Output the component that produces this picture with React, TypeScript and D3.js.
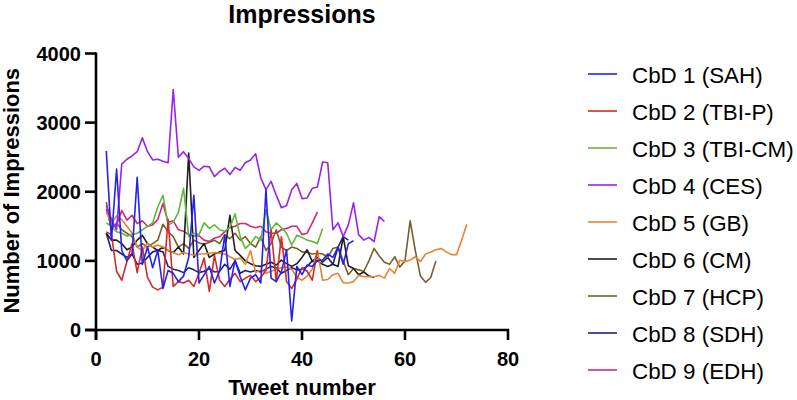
import React from 'react';
import * as d3 from 'd3';

// Tweet-by-tweet impressions, every series starts at tweet 2
const startTweet = 2;

const sah = [2590, 1300, 2330, 1150, 1000, 1100, 2210, 950, 1200, 900, 1150, 600, 860, 820, 700, 780, 1050, 1950, 680, 800, 920, 680, 850, 1370, 630, 1010, 770, 580, 750, 800, 680, 2030, 750, 700, 840, 1160, 130, 920, 800, 940, 920, 1010, 1010, 1100, 1050, 1200, 950, 1250, 1290];
const tbiP = [1420, 1380, 850, 720, 990, 1250, 830, 1200, 760, 620, 580, 620, 1600, 630, 700, 680, 720, 630, 820, 1040, 560, 1080, 720, 630, 730, 820, 700, 750, 790, 700, 760, 860, 1450, 700, 1350, 700, 600, 740, 900, 850, 720, 1150];
const tbiCM = [1550, 1500, 1420, 1400, 1360, 1380, 1400, 1450, 1500, 1550, 1780, 1950, 1520, 1560, 1700, 2050, 1350, 1400, 1380, 1550, 1470, 1520, 1450, 1430, 1480, 1680, 1350, 1180, 1250, 1350, 1300, 1740, 1450, 1550, 1480, 1400, 1230, 1370, 1340, 1300, 1280, 1250, 1470];
const ces = [1800, 1600, 1450, 2400, 2470, 2520, 2580, 2780, 2580, 2460, 2470, 2440, 2420, 3480, 2500, 2580, 2480, 2360, 2310, 2370, 2360, 2220, 2290, 2340, 2250, 2350, 2310, 2420, 2460, 2550, 2200, 2030, 2150, 1950, 1770, 1800, 2030, 2120, 1900, 1910, 2050, 2070, 2430, 2420, 1450, 1550, 1350, 1520, 1840, 1380, 1300, 1340, 1280, 1640, 1570];
const gb = [1700, 1550, 1650, 1600, 1500, 1400, 1200, 1150, 1250, 1200, 1230, 1200, 1150, 1120, 1090, 1120, 1100, 1080, 1100, 1100, 1110, 1120, 1110, 1100, 1060, 1020, 1040, 950, 1150, 830, 870, 820, 850, 880, 900, 910, 880, 760, 720, 780, 880, 1150, 720, 730, 800, 820, 680, 680, 700, 790, 770, 770, 770, 790, 750, 890, 820, 1010, 990, 1010, 1060, 990, 1100, 1130, 1160, 1180, 1130, 1090, 1090, 1300, 1530];
const cm = [1400, 1300, 1300, 1250, 1160, 1200, 1300, 1370, 1250, 1200, 1150, 1200, 1150, 1120, 1200, 1100, 2560, 1050, 1150, 1250, 1050, 1100, 1130, 1150, 1660, 1150, 1080, 1000, 960, 930, 920, 950, 980, 940, 1010, 960, 920, 960, 1050, 1160, 990, 1000, 950, 920, 950, 920, 1350, 930, 890, 800, 840, 780, 760];
const hcp = [1850, 1450, 1550, 1450, 1400, 1350, 1200, 1250, 1200, 1250, 1300, 1530, 1420, 1350, 1200, 1250, 1180, 1300, 1260, 1240, 1270, 1300, 1250, 1380, 1320, 1400, 1300, 1350, 1250, 1200, 1350, 1150, 1250, 1450, 1200, 1150, 1200, 1180, 1130, 1120, 1100, 1110, 1100, 1050, 1180, 1200, 1000, 800, 890, 870, 850, 1000, 1180, 1070, 980, 950, 1060, 910, 1000, 1580, 1150, 780, 690, 760, 1000];
const sdh = [1400, 1150, 1150, 1100, 1050, 1100, 950, 970, 1050, 1130, 1150, 1130, 920, 880, 860, 830, 900, 870, 830, 850, 890, 840, 850, 950, 880, 1000, 820, 860, 840, 860, 840, 880, 920, 900, 820, 860, 900, 870, 880, 920, 1000, 1050, 980, 1050, 950, 1200, 1350, 1300];
const edh = [1750, 1480, 1520, 1730, 1590, 1660, 1540, 1580, 1500, 1520, 1600, 1830, 1560, 1580, 1450, 1430, 1380, 1360, 1360, 1300, 1280, 1330, 1350, 1420, 1480, 1500, 1540, 1540, 1500, 1480, 1500, 1420, 1400, 1400, 1450, 1470, 1500, 1500, 1380, 1400, 1550, 1710];

const seriesNames = ['CbD 1 (SAH)', 'CbD 2 (TBI-P)', 'CbD 3 (TBI-CM)', 'CbD 4 (CES)', 'CbD 5 (GB)', 'CbD 6 (CM)', 'CbD 7 (HCP)', 'CbD 8 (SDH)', 'CbD 9 (EDH)'];
const seriesValues = [sah, tbiP, tbiCM, ces, gb, cm, hcp, sdh, edh];
const seriesColors = ['#2222f5', '#d42a2a', '#5fb83a', '#9b22e8', '#e8832f', '#1e1e1e', '#7d5c2c', '#20207a', '#d8267a'];

const xTicks = [0, 20, 40, 60, 80];
const yTicks = [0, 1000, 2000, 3000, 4000];

const font = 'Arial, "Liberation Sans", sans-serif';

export default function App() {
  const width = 797;
  const height = 400;

  const x = d3.scaleLinear().domain([0, 80]).range([96, 508]);
  const y = d3.scaleLinear().domain([0, 4000]).range([330, 53.5]);

  const line = d3.line<number>()
    .x((_, i) => x(startTweet + i))
    .y(d => y(d));

  // draw order: later series on top, roughly as in the original
  const drawOrder = [8, 7, 6, 5, 4, 3, 2, 1, 0];

  return (
    <svg width={width} height={height} style={{ position: 'absolute', left: 0, top: 0 }} fontFamily={font}>
      <rect width={width} height={height} fill="#fff" />

      {/* title */}
      <text x={302} y={23} textAnchor="middle" fontSize={25} fontWeight="bold">Impressions</text>

      {/* series */}
      {drawOrder.map(i => (
        <path key={i} d={line(seriesValues[i]) || ''} fill="none" stroke={seriesColors[i]} strokeWidth={1.6} strokeLinejoin="round" />
      ))}

      {/* y axis */}
      <line x1={96} x2={96} y1={y(4000) - 1} y2={340} stroke="#000" strokeWidth={2.6} />
      {yTicks.map(t => (
        <g key={t}>
          <line x1={85} x2={96} y1={y(t)} y2={y(t)} stroke="#000" strokeWidth={2.6} />
          <text x={81} y={y(t)} textAnchor="end" dominantBaseline="central" fontSize={20} fontWeight="bold">{t}</text>
        </g>
      ))}
      <text transform={`translate(19,${y(2000) - 1}) rotate(-90)`} textAnchor="middle" fontSize={22} fontWeight="bold">Number of Impressions</text>

      {/* x axis */}
      <line x1={85} x2={x(80) + 1} y1={330} y2={330} stroke="#000" strokeWidth={2.6} />
      {xTicks.map(t => (
        <g key={t}>
          <line x1={x(t)} x2={x(t)} y1={330} y2={340} stroke="#000" strokeWidth={2.6} />
          <text x={x(t)} y={366} textAnchor="middle" fontSize={20} fontWeight="bold">{t}</text>
        </g>
      ))}
      <text x={302} y={395} textAnchor="middle" fontSize={22} fontWeight="bold">Tweet number</text>

      {/* legend */}
      {seriesNames.map((name, i) => (
        <g key={name} transform={`translate(0,${74 + i * 37})`}>
          <line x1={588} x2={617} y1={0} y2={0} stroke={seriesColors[i]} strokeWidth={1.6} />
          <text x={632} y={1} dominantBaseline="central" fontSize={22.4}>{name}</text>
        </g>
      ))}
    </svg>
  );
}
